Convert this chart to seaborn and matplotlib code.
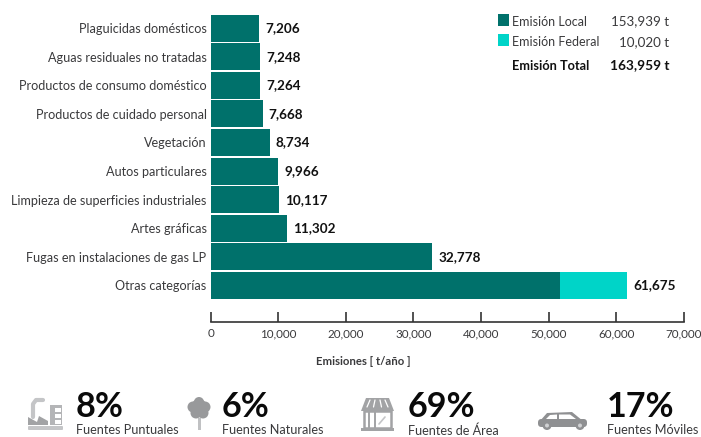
import matplotlib
matplotlib.use("Agg")
import matplotlib.pyplot as plt
from matplotlib.patches import Rectangle, Polygon, Circle, FancyBboxPatch
import pandas as pd
import seaborn as sns

categorias = ["Plaguicidas domésticos", "Aguas residuales no tratadas",
              "Productos de consumo doméstico", "Productos de cuidado personal",
              "Vegetación", "Autos particulares",
              "Limpieza de superficies industriales", "Artes gráficas",
              "Fugas en instalaciones de gas LP", "Otras categorías"]
local = [7206, 7248, 7264, 7668, 8734, 9966, 10117, 11302, 32778, 51655]
federal = [0, 0, 0, 0, 0, 0, 0, 0, 0, 10020]
x_ticks = [0, 10000, 20000, 30000, 40000, 50000, 60000, 70000]
leyenda = [("Emisión Local", "153,939 t"), ("Emisión Federal", "10,020 t")]
total_txt = ("Emisión Total", "163,959 t")
fuentes = [("8%", "Fuentes Puntuales"), ("6%", "Fuentes Naturales"),
           ("69%", "Fuentes de Área"), ("17%", "Fuentes Móviles")]

VERDE = "#00716b"
CIAN = "#00d4c8"
GRIS = "#a2a3a5"
TXT = "#3a3a3c"

sns.set_theme(style="white")
plt.rcParams["font.family"] = ["Lato", "DejaVu Sans"]

W, H = 701, 437
df = pd.DataFrame({"cat": categorias, "local": local, "federal": federal})
df["total"] = df["local"] + df["federal"]

fig = plt.figure(figsize=(W / 100, H / 100), dpi=100)
ax = fig.add_axes([210.7 / W, 1 - 299.8 / H, 473 / W, 286 / H])

sns.barplot(data=df, y="cat", x="total", color=CIAN, width=0.95, saturation=1, linewidth=0, ax=ax)
sns.barplot(data=df, y="cat", x="local", color=VERDE, width=0.95, saturation=1, linewidth=0, ax=ax)

ax.set_xlim(0, 70000)
ax.set_ylim(9.5, -0.5)
ax.set_xlabel("")
ax.set_ylabel("")
ax.set_xticks(x_ticks)
ax.set_xticklabels([f"{v:,}" for v in x_ticks])
ax.tick_params(axis="x", direction="in", length=7, width=1.2, color="#333333", pad=4.5,
               bottom=True, labelsize=8.4, labelcolor=TXT)
ax.tick_params(axis="y", length=0, pad=3, labelsize=9.05, labelcolor=TXT)
sns.despine(ax=ax, left=True)
ax.spines["bottom"].set_position(("outward", 15.8))
ax.spines["bottom"].set_linewidth(1.2)
ax.spines["bottom"].set_color("#333333")

for i, v in enumerate(df["total"]):
    ax.annotate(f"{v:,}", (v, i), xytext=(4.5, 0), textcoords="offset points",
                va="center", ha="left", fontsize=9.75, fontweight="bold", color="#111111")

# capa en pixeles para leyenda, iconos y resumen
ov = fig.add_axes([0, 0, 1, 1], zorder=5)
ov.set_xlim(0, W)
ov.set_ylim(H, 0)
ov.axis("off")

ov.text(363, 361.7, "Emisiones [ t/año ]", fontsize=8.2, fontweight="bold", color=TXT,
        ha="center", va="center")

for (nombre, val), c, ys, yt in zip(leyenda, [VERDE, CIAN], [20, 40], [21.5, 42]):
    ov.add_patch(Rectangle((498, ys - 6), 11, 12, color=c, lw=0))
    ov.text(512, yt, nombre, fontsize=9, color=TXT, va="center")
    ov.text(669, yt, val, fontsize=9.6, color=TXT, va="center", ha="right")
ov.text(512, 65.5, total_txt[0], fontsize=9.2, fontweight="bold", color="#111111", va="center")
ov.text(669, 65.5, total_txt[1], fontsize=9.8, fontweight="bold", color="#111111", va="center", ha="right")

for (pct, nom), x in zip(fuentes, [76, 222, 408, 607]):
    ov.text(x, 407, pct, fontsize=24.6, fontweight="bold", color="#0a0a0a", va="center", ha="left")
    ov.text(x, 430.5, nom, fontsize=9.1, color=TXT, va="center", ha="left")

# fabrica
ov.add_patch(FancyBboxPatch((28, 426), 35, 4, boxstyle="round,pad=0,rounding_size=1", color="#c4c5c7", lw=0))
ov.add_patch(Polygon([(28, 425), (28, 417), (37, 422), (39, 416), (48, 421), (48, 425)], color=GRIS, lw=0))
ov.add_patch(Rectangle((50, 405), 12, 20, color="#b4b5b7", lw=0))
for y in [408, 414, 420]:
    ov.add_patch(Rectangle((55, y), 6, 3.5, color="white", lw=0))
ov.plot([33, 33, 36, 43], [417, 404, 400, 400], color="#c4c5c7", lw=3, solid_capstyle="round")

# arbol
ov.add_patch(Rectangle((197.5, 418), 3, 12, color="#c0c1c3", lw=0))
for cx, cy, r in [(199, 407, 8), (193, 407, 5.5), (205, 407, 5.5), (196, 413, 5.5), (203, 413, 5.5), (199, 402, 5)]:
    ov.add_patch(Circle((cx, cy), r, color="#98999b", lw=0))

# tienda
ov.add_patch(Polygon([(366, 398), (389, 398), (394, 411), (361, 411)], color=GRIS, lw=0))
for xa, xb in [(370, 367), (375, 373.5), (380, 381.5), (385, 388)]:
    ov.plot([xa, xb], [400, 407], color="white", lw=0.9)
ov.add_patch(Rectangle((364, 411), 27, 17, fill=False, ec=GRIS, lw=1.8))
ov.add_patch(Rectangle((361, 428), 33, 2.5, color=GRIS, lw=0))
ov.plot([369, 369], [412, 428], color=GRIS, lw=1.4)
ov.plot([375, 375], [412, 428], color=GRIS, lw=1.4)
ov.plot([379, 385], [424, 417], color="#c4c5c7", lw=1.2)

# auto
ov.add_patch(FancyBboxPatch((538, 419), 49, 8, boxstyle="round,pad=0,rounding_size=3.5", color="#8f9092", lw=0))
ov.add_patch(Polygon([(540, 421), (547, 413), (572, 412), (583, 421)], color="#8f9092", lw=0))
ov.add_patch(Polygon([(546, 419), (550, 415), (557, 414.5), (557, 419)], color="white", lw=0))
ov.add_patch(Polygon([(559, 419), (559, 414.5), (570, 414.5), (576, 419)], color="white", lw=0))
for cx in [547, 580]:
    ov.add_patch(Circle((cx, 425.5), 4.5, color="#8f9092", lw=0))
    ov.add_patch(Circle((cx, 425.5), 2, color="#d0d1d3", lw=0))

fig.savefig("out.png", dpi=100)
